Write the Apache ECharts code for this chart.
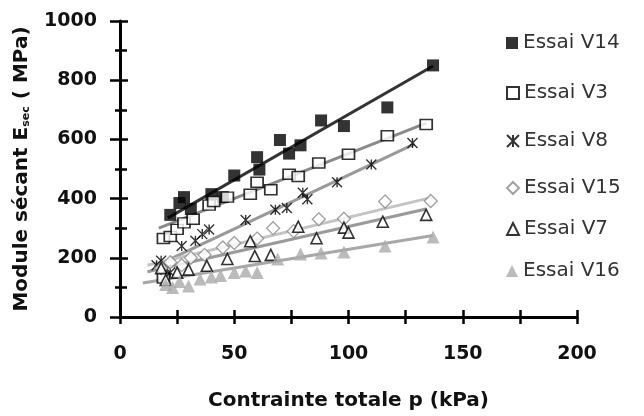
<!DOCTYPE html>
<html>
<head>
<meta charset="utf-8">
<script src="https://cdn.jsdelivr.net/npm/echarts@6/dist/echarts.min.js"></script>
<style>html,body{margin:0;padding:0;background:#fff;}#c{width:644px;height:416px;}</style>
</head>
<body>
<div id="c"></div>
<script>
// Series names
const names = ['Essai V14', 'Essai V3', 'Essai V8', 'Essai V15', 'Essai V7', 'Essai V16'];
// Measured points [p (kPa), E (MPa)]
const v14 = [[22,345],[26,385],[28,405],[31,365],[40,415],[45,405],[50,478],[60,540],[61,498],[70,598],[74,552],[79,580],[88,664],[98,645],[117,708],[137,850]];
const v3 = [[19,265],[19,132],[22,272],[25,296],[28,318],[32,330],[39,378],[41,390],[47,405],[57,415],[60,455],[66,430],[74,482],[78,475],[87,520],[100,550],[117,612],[134,650]];
const v8 = [[16,175],[18,190],[20,160],[22,150],[27,240],[33,258],[36,280],[39,296],[55,328],[68,362],[73,368],[80,420],[82,398],[95,455],[110,515],[128,588]];
const v15 = [[18,165],[22,185],[27,175],[31,200],[37,210],[45,235],[50,250],[60,265],[67,300],[76,290],[87,330],[98,332],[116,390],[136,392]];
const v7 = [[18,165],[20,125],[25,150],[30,160],[38,173],[47,196],[57,256],[59,206],[66,210],[78,305],[86,266],[98,302],[100,285],[115,322],[134,345]];
const v16 = [[20,110],[23,100],[26,120],[30,105],[35,128],[40,135],[44,140],[50,150],[55,155],[60,150],[69,196],[79,213],[88,216],[98,220],[116,240],[137,270]];
// Trend line end points
const t14 = [[21,335],[137,848]];
const t3 = [[17,300],[134,655]];
const t8 = [[15,170],[129,585]];
const t15 = [[12,175],[137,405]];
const t7 = [[12,153],[134,365]];
const t16 = [[10,115],[137,275]];

const points = [v14, v3, v8, v15, v7, v16];
const trends = [t14, t3, t8, t15, t7, t16];

const star = 'path://M0,0L10,10M10,0L0,10M5,0L5,10';
const markStyles = [
  {symbol:'rect', size:12, item:{color:'#000'}},
  {symbol:'rect', size:[12,10], item:{color:'#fff', borderColor:'#000', borderWidth:1.6}},
  {symbol:star, size:10, item:{color:'transparent', borderColor:'#000', borderWidth:1.4}},
  {symbol:'diamond', size:13, item:{color:'#fff', borderColor:'#888', borderWidth:1.3}},
  {symbol:'triangle', size:11, item:{color:'#fff', borderColor:'#000', borderWidth:1.6}},
  {symbol:'triangle', size:13, item:{color:'#aaa'}}
];
const lineColors = ['#333', '#8a8a8a', '#999', '#c4c4c4', '#9a9a9a', '#a8a8a8'];
const legendTops = [28, 78, 126, 173, 214, 256];

const series = [];
names.forEach((n, i) => {
  series.push({
    type:'line', data: trends[i], showSymbol:false, silent:true, z:2,
    lineStyle:{color: lineColors[i], width:3}
  });
});
names.forEach((n, i) => {
  series.push({
    name:n, type:'scatter', data: points[i], z:3,
    symbol: markStyles[i].symbol, symbolSize: markStyles[i].size,
    itemStyle: markStyles[i].item
  });
});

const labelFont = {fontFamily:'DejaVu Sans', fontWeight:'bold', fontSize:19, color:'#111', formatter: v => String(v)};

const option = {
  animation:false,
  backgroundColor:'#fff',
  grid:{left:120, right:67, top:21, bottom:94, containLabel:false},
  legend: names.map((n, i) => ({
    data:[n], left:501, top:legendTops[i], orient:'vertical',
    itemWidth:12, itemHeight:12, itemGap:0,
    textStyle:{fontFamily:'DejaVu Sans', fontSize:20, color:'#333'}
  })),
  xAxis:[{
    type:'value', min:0, max:200, interval:50,
    axisLine:{lineStyle:{color:'#000', width:3}},
    axisTick:{show:true, length:7, lineStyle:{color:'#000', width:2.5}},
    minorTick:{show:true, splitNumber:2, length:7, lineStyle:{color:'#000', width:2.5}},
    splitLine:{show:false},
    axisLabel:Object.assign({margin:28}, labelFont),
    name:'Contrainte totale p (kPa)', nameLocation:'middle', nameGap:74,
    nameTextStyle:{fontFamily:'DejaVu Sans', fontWeight:'bold', fontSize:20, color:'#111'}
  },{
    type:'value', min:0, max:200, interval:50, position:'bottom',
    axisLine:{show:false},
    axisTick:{show:true, inside:true, length:7, lineStyle:{color:'#000', width:2.5}},
    minorTick:{show:true, splitNumber:2, length:7, lineStyle:{color:'#000', width:2.5}},
    axisLabel:{show:false}, splitLine:{show:false}
  }],
  yAxis:[{
    type:'value', min:0, max:1000, interval:200,
    axisLine:{show:true, lineStyle:{color:'#000', width:3}},
    axisTick:{show:true, length:10, lineStyle:{color:'#000', width:2.5}},
    minorTick:{show:true, splitNumber:2, length:5, lineStyle:{color:'#000', width:2.5}},
    splitLine:{show:false},
    axisLabel:Object.assign({margin:23}, labelFont),
    name:'Module sécant E{sub|sec} ( MPa)', nameLocation:'middle', nameGap:88, nameRotate:90,
    nameTextStyle:{fontFamily:'DejaVu Sans', fontWeight:'bold', fontSize:20, color:'#111',
      rich:{sub:{fontFamily:'DejaVu Sans', fontSize:11, color:'#111', verticalAlign:'bottom', padding:[8,0,0,0]}}}
  },{
    type:'value', min:0, max:1000, interval:200, position:'left',
    axisLine:{show:false},
    axisTick:{show:true, inside:true, length:8, lineStyle:{color:'#000', width:2.5}},
    minorTick:{show:true, splitNumber:2, length:7, lineStyle:{color:'#000', width:2.5}},
    axisLabel:{show:false}, splitLine:{show:false}
  }],
  series: series
};

const chart = echarts.init(document.getElementById('c'), null, {renderer:'canvas'});
chart.setOption(option);
</script>
</body>
</html>
